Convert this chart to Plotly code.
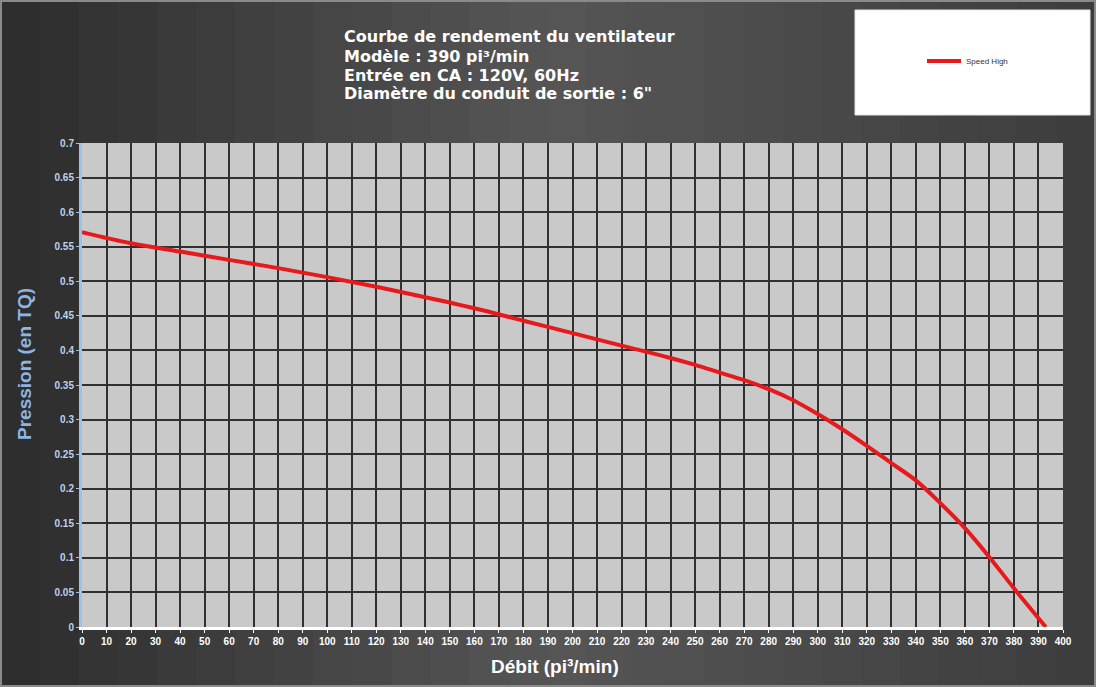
import plotly.graph_objects as go

# Data
flow_cfm = [0, 20, 40, 60, 80, 100, 120, 140, 160, 180, 200, 220, 240, 250, 260, 270,
            280, 290, 300, 310, 320, 330, 340, 350, 360, 370, 380, 393]
pressure_inwg = [0.571, 0.555, 0.543, 0.531, 0.519, 0.506, 0.492, 0.477, 0.461,
                 0.443, 0.425, 0.407, 0.389, 0.379, 0.368, 0.357, 0.344, 0.328,
                 0.308, 0.286, 0.262, 0.237, 0.212, 0.179, 0.143, 0.101, 0.056, 0.0]
series_name = "Speed High"

x_ticks = list(range(0, 401, 10))
y_ticks = [round(i * 0.05, 2) for i in range(15)]
y_tick_text = ["0" if v == 0 else ("%g" % v) for v in y_ticks]

title_lines = [
    "Courbe de rendement du ventilateur",
    "Modèle : 390 pi³/min",
    "Entrée en CA : 120V, 60Hz",
    "Diamètre du conduit de sortie : 6\"",
]
x_title = "Débit (pi³/min)"
y_title = "Pression (en TQ)"

W, H = 1096, 687
L, R, T, B = 82, 33, 143, 60
PW, PH = W - L - R, H - T - B


def px_x(p):
    return (p - L) / PW


def px_y(p):
    return 1 - (p - T) / PH


narrow = "Liberation Sans Narrow, Arial Narrow, Liberation Sans, Arial"
bold = "Liberation Sans, Arial"
wide = "DejaVu Sans, Verdana, Liberation Sans"

fig = go.Figure()
fig.add_trace(go.Scatter(
    x=flow_cfm, y=pressure_inwg, mode="lines", name=series_name,
    line=dict(color="#e8191c", width=4, shape="spline", smoothing=1.0),
))

shapes = []
n = 28
for i in range(n):
    t = (i + 0.5) / n
    if t < 0.5:
        g = 44 + (86 - 44) * (t / 0.5)
    else:
        g = 86 - (86 - 60) * ((t - 0.5) / 0.5)
    g = int(round(g))
    shapes.append(dict(type="rect", xref="paper", yref="paper",
                       x0=px_x(W * i / n), x1=px_x(W * (i + 1) / n + 1),
                       y0=px_y(H), y1=px_y(0),
                       fillcolor="rgb(%d,%d,%d)" % (g, g, g), line=dict(width=0),
                       layer="below"))
shapes.append(dict(type="rect", xref="paper", yref="paper", x0=0, x1=1, y0=0, y1=1,
                   fillcolor="#c9c9c9", line=dict(width=0), layer="below"))
shapes.append(dict(type="rect", xref="paper", yref="paper",
                   x0=px_x(855), x1=px_x(1090), y0=px_y(115), y1=px_y(10),
                   fillcolor="white", line=dict(color="#e6e6e6", width=1), layer="below"))
shapes.append(dict(type="rect", xref="paper", yref="paper",
                   x0=px_x(1), x1=px_x(W - 1), y0=px_y(H - 1), y1=px_y(1),
                   fillcolor="rgba(0,0,0,0)", line=dict(color="#8a8a8a", width=2),
                   layer="below"))

annotations = []
for line_text, yc in zip(title_lines, [37, 56, 75, 94]):
    annotations.append(dict(text="<b>" + line_text + "</b>", xref="paper", yref="paper",
                            x=px_x(342), y=px_y(yc), xanchor="left", yanchor="middle",
                            align="left", showarrow=False,
                            font=dict(family=wide, size=16, color="white")))
annotations.append(dict(text="<b>" + x_title + "</b>", xref="paper", yref="paper",
                        x=px_x(555), y=px_y(666), xanchor="center", yanchor="middle",
                        showarrow=False,
                        font=dict(family=bold, size=19, color="white")))
annotations.append(dict(text="<b>" + y_title + "</b>", xref="paper", yref="paper",
                        x=px_x(24), y=px_y(364), xanchor="center", yanchor="middle",
                        showarrow=False, textangle=-90,
                        font=dict(family=bold, size=19, color="#8db4e2")))

fig.update_layout(
    width=W, height=H,
    margin=dict(l=L, r=R, t=T, b=B),
    paper_bgcolor="#454545",
    plot_bgcolor="rgba(0,0,0,0)",
    showlegend=True,
    legend=dict(x=px_x(922), y=px_y(61), xanchor="left", yanchor="middle",
                bgcolor="rgba(0,0,0,0)",
                font=dict(family=narrow, size=8, color="#333333"),
                itemwidth=34),
    shapes=shapes,
    annotations=annotations,
)

fig.update_xaxes(
    range=[0, 400], tickmode="array", tickvals=x_ticks,
    ticktext=["<b>%d</b>" % v for v in x_ticks],
    tickfont=dict(family=narrow, size=10, color="white"),
    showgrid=True, gridcolor="#303030", gridwidth=1.5,
    showline=True, linecolor="white", linewidth=3,
    ticks="outside", tickcolor="white", ticklen=3, tickwidth=1,
    zeroline=False, tickangle=0,
)
fig.update_yaxes(
    range=[0, 0.7], tickmode="array", tickvals=y_ticks,
    ticktext=["<b>%s</b>" % s for s in y_tick_text],
    tickfont=dict(family=narrow, size=10, color="#bcd2ee"),
    showgrid=True, gridcolor="#303030", gridwidth=1.5,
    showline=True, linecolor="#9cc3e6", linewidth=3,
    ticks="outside", tickcolor="#9cc3e6", ticklen=3,
    zeroline=False,
)

fig.write_html("out.html", config={"displayModeBar": False},
               post_script="document.body.style.margin='0';document.body.style.overflow='hidden';")
